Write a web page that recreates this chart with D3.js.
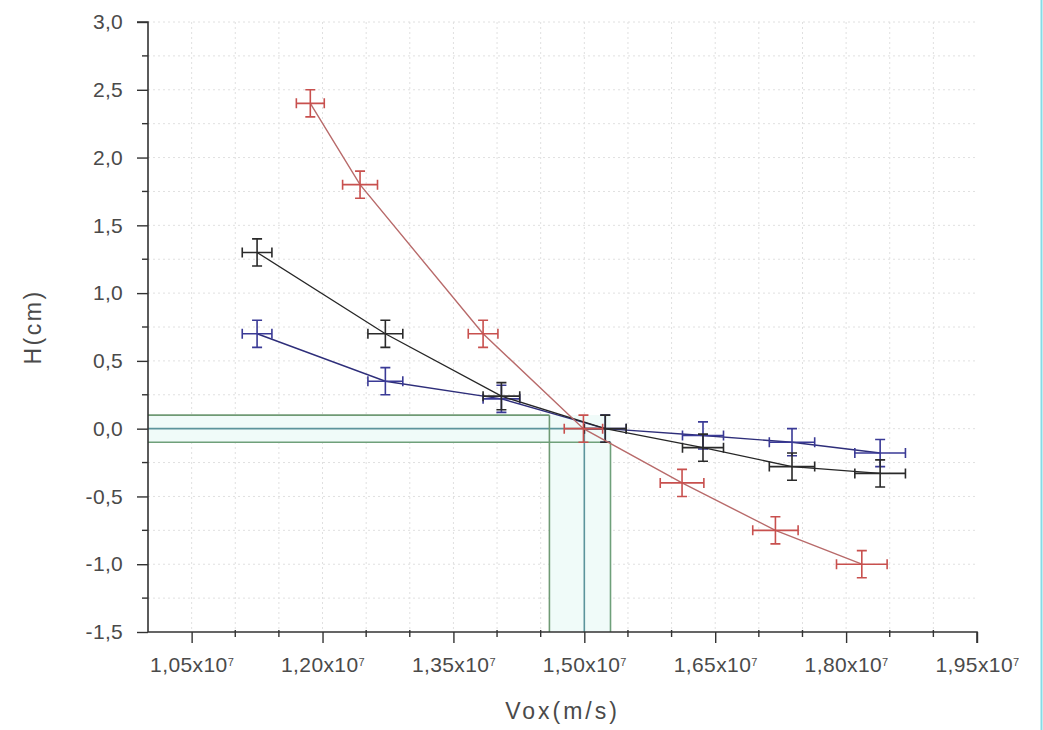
<!DOCTYPE html>
<html>
<head>
<meta charset="utf-8">
<script src="https://cdn.jsdelivr.net/npm/d3@7"></script>
<style>
  html, body { margin: 0; padding: 0; background: #fff; }
  svg { display: block; }
  text { font-family: "Liberation Sans", Arial, sans-serif; fill: #4a4a4a; }
</style>
</head>
<body>
<svg id="chart" width="1043" height="730"></svg>
<script>
// Vox in units of 1e7 m/s, H in cm
const vRed     = [1.186, 1.243, 1.384, 1.499, 1.612, 1.719, 1.818];
const hRed     = [2.40, 1.80, 0.70, 0.00, -0.40, -0.75, -1.00];
const vErrRed  = [0.016, 0.020, 0.017, 0.022, 0.025, 0.026, 0.029];
const hErrRed  = [0.10, 0.10, 0.10, 0.10, 0.10, 0.10, 0.10];

const vBlack    = [1.125, 1.272, 1.405, 1.524, 1.636, 1.738, 1.839];
const hBlack    = [1.30, 0.70, 0.24, 0.00, -0.14, -0.28, -0.33];
const vErrBlack = [0.017, 0.020, 0.021, 0.024, 0.0235, 0.026, 0.029];
const hErrBlack = [0.10, 0.10, 0.10, 0.10, 0.10, 0.10, 0.10];

const vBlue    = [1.125, 1.272, 1.405, 1.524, 1.636, 1.738, 1.839];
const hBlue    = [0.70, 0.35, 0.22, 0.00, -0.05, -0.10, -0.18];
const vErrBlue = [0.017, 0.020, 0.021, 0.024, 0.0235, 0.026, 0.029];
const hErrBlue = [0.10, 0.10, 0.10, 0.10, 0.10, 0.10, 0.10];

// guide lines marking the H = ±0.1 band and where the curves cross it
const guideH = [0.1, 0.0, -0.1];
const guideV = [1.46, 1.50, 1.53];

const xMajor = [1.05, 1.20, 1.35, 1.50, 1.65, 1.80, 1.95];
const xMinor = [1.00, 1.10, 1.15, 1.25, 1.30, 1.40, 1.45, 1.55, 1.60, 1.70, 1.75, 1.85, 1.90];
const yMajor = [-1.5, -1.0, -0.5, 0.0, 0.5, 1.0, 1.5, 2.0, 2.5, 3.0];
const yMinor = [-1.25, -0.75, -0.25, 0.25, 0.75, 1.25, 1.75, 2.25, 2.75];

const xTitle = "Vox(m/s)";
const yTitle = "H(cm)";

const svg = d3.select("#chart");
const x = d3.scaleLinear().domain([1.0, 1.95]).range([148, 977]);
const y = d3.scaleLinear().domain([-1.5, 3.0]).range([632, 22]);

// dotted background grid at every minor step
const gridX = xMinor.concat(xMajor).filter(v => v > 1.0 && v < 1.95);
const gridY = yMinor.concat(yMajor).filter(v => v > -1.5);
const grid = svg.append("g").attr("stroke", "#e0e0e0").attr("stroke-width", 1).attr("stroke-dasharray", "2,3");
grid.selectAll("line.gx").data(gridX).join("line")
  .attr("x1", d => x(d)).attr("x2", d => x(d)).attr("y1", y(3.0)).attr("y2", y(-1.5));
grid.selectAll("line.gy").data(gridY).join("line")
  .attr("x1", x(1.0)).attr("x2", x(1.95)).attr("y1", d => y(d)).attr("y2", d => y(d));

// pale band behind the guide lines
const band = svg.append("g").attr("fill", "#f0fbf9");
band.append("rect")
  .attr("x", x(1.0)).attr("width", x(guideV[2]) - x(1.0))
  .attr("y", y(guideH[0])).attr("height", y(guideH[2]) - y(guideH[0]));
band.append("rect")
  .attr("x", x(guideV[0])).attr("width", x(guideV[2]) - x(guideV[0]))
  .attr("y", y(guideH[2])).attr("height", y(-1.5) - y(guideH[2]));

const guideColors = ["#6f9a74", "#5c949c", "#6fa07a"];
const guides = svg.append("g").attr("stroke-width", 1.6);
guides.selectAll("line.h").data(guideH).join("line")
  .attr("stroke", (d, i) => guideColors[i])
  .attr("x1", x(1.0)).attr("x2", (d, i) => x(guideV[i]))
  .attr("y1", d => y(d)).attr("y2", d => y(d));
guides.selectAll("line.v").data(guideV).join("line")
  .attr("stroke", (d, i) => guideColors[i])
  .attr("x1", d => x(d)).attr("x2", d => x(d))
  .attr("y1", (d, i) => y(guideH[i])).attr("y2", y(-1.5));

// axes
const yAxis = d3.axisLeft(y).tickValues(yMajor).tickSize(11).tickPadding(14)
  .tickFormat(d => d3.format(".1f")(d).replace(".", ",").replace("−", "-"));
const gy = svg.append("g").attr("transform", `translate(${x(1.0)},0)`).call(yAxis);
gy.selectAll("text").style("font-size", "21px").attr("letter-spacing", "0.3px");
gy.append("g").selectAll("line").data(yMinor).join("line")
  .attr("x1", -6).attr("x2", 0).attr("y1", d => y(d)).attr("y2", d => y(d));

const xAxis = d3.axisBottom(x).tickValues(xMajor).tickSize(11).tickPadding(14);
const gx = svg.append("g").attr("transform", `translate(0,${y(-1.5)})`).call(xAxis);
gx.selectAll(".tick text").each(function(d) {
  const t = d3.select(this).text(null).style("font-size", "21px").attr("letter-spacing", "0.4px");
  t.append("tspan").text(d3.format(".2f")(d).replace(".", ",") + "x10");
  t.append("tspan").attr("dy", "-0.55em").style("font-size", "11px").text("7");
});
gx.append("g").selectAll("line").data(xMinor.filter(v => v > 1.0)).join("line")
  .attr("x1", d => x(d)).attr("x2", d => x(d)).attr("y1", -2).attr("y2", 5);

[gx, gy].forEach(g => {
  g.select(".domain").attr("stroke", "#333").attr("stroke-width", 1.6);
  g.selectAll("line").attr("stroke", "#333").attr("stroke-width", 1.4);
});
gy.select(".domain").attr("d", `M-11,${y(3.0)}H0V${y(-1.5)}`);
gx.select(".domain").attr("d", `M${x(1.0)},0H${x(1.95)}V11`);

// axis titles
svg.append("text").attr("x", (x(1.0) + x(1.95)) / 2).attr("y", 719)
  .attr("text-anchor", "middle").style("font-size", "23px").attr("letter-spacing", "3px")
  .text(xTitle);
svg.append("text").attr("transform", `translate(41,${(y(3.0) + y(-1.5)) / 2}) rotate(-90)`)
  .attr("text-anchor", "middle").style("font-size", "23px").attr("letter-spacing", "2.5px")
  .text(yTitle);

// data series: connecting line plus x/y error bars
function drawSeries(vs, hs, ve, he, lineColor, barColor, lw) {
  const pts = vs.map((v, i) => ({ v, h: hs[i], ve: ve[i], he: he[i] }));
  const g = svg.append("g");
  g.append("path").datum(pts)
    .attr("fill", "none").attr("stroke", lineColor).attr("stroke-width", lw)
    .attr("d", d3.line().x(d => x(d.v)).y(d => y(d.h)));
  const eb = g.selectAll("g.eb").data(pts).join("g")
    .attr("stroke", barColor).attr("stroke-width", 1.6).attr("fill", "none");
  const cap = 5;
  eb.append("path").attr("d", d => {
    const cx = x(d.v), cy = y(d.h);
    const x0 = x(d.v - d.ve), x1 = x(d.v + d.ve);
    const y0 = y(d.h + d.he), y1 = y(d.h - d.he);
    return `M${x0},${cy}H${x1}` +
      `M${x0},${cy - cap}V${cy + cap}M${x1},${cy - cap}V${cy + cap}` +
      `M${cx},${y0}V${y1}` +
      `M${cx - cap},${y0}H${cx + cap}M${cx - cap},${y1}H${cx + cap}`;
  });
}

drawSeries(vBlue, hBlue, vErrBlue, hErrBlue, "#2e2e7a", "#3a3a96", 1.4);
drawSeries(vBlack, hBlack, vErrBlack, hErrBlack, "#262626", "#2a2a2a", 1.3);
drawSeries(vRed, hRed, vErrRed, hErrRed, "#b86a6a", "#c8504e", 1.4);

// thin cyan rule on the right edge of the page
svg.append("line").attr("x1", 1041.5).attr("x2", 1041.5).attr("y1", 0).attr("y2", 730)
  .attr("stroke", "#86dbe6").attr("stroke-width", 2);
</script>
</body>
</html>
